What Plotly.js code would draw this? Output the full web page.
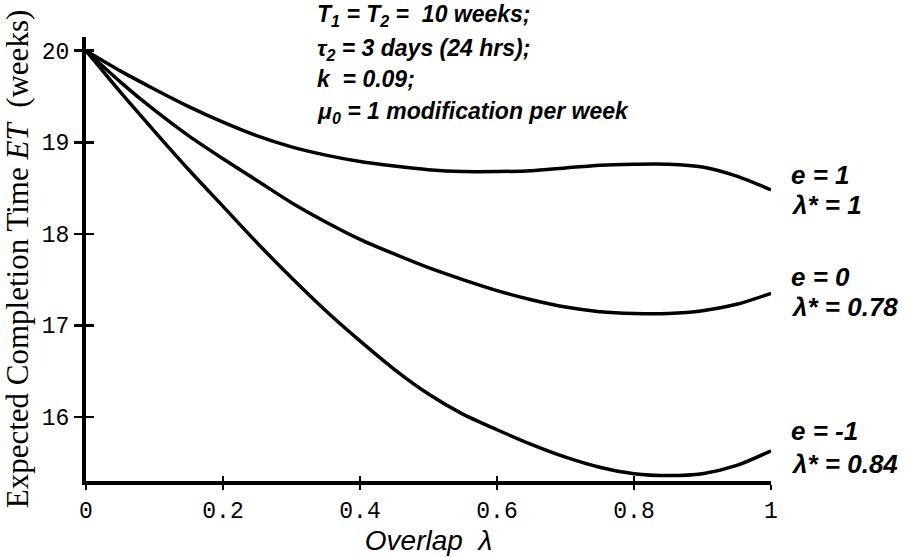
<!DOCTYPE html>
<html>
<head>
<meta charset="utf-8">
<script src="https://cdn.plot.ly/plotly-3.0.1.min.js"></script>
<style>html,body{margin:0;padding:0;background:#fff;}#chart{width:911px;height:557px;}</style>
</head>
<body>
<div id="chart"></div>
<script>
// Overlap lambda values
const overlap = [0,0.05,0.1,0.15,0.2,0.25,0.3,0.35,0.4,0.45,0.5,0.55,0.6,0.65,0.7,0.75,0.8,0.85,0.9,0.95,1.0];
// Expected completion time ET (weeks)
const etE1  = [20.0,19.78,19.58,19.39,19.22,19.07,18.95,18.86,18.79,18.74,18.70,18.68,18.68,18.69,18.72,18.75,18.76,18.76,18.73,18.63,18.48];
const etE0  = [20.0,19.66,19.35,19.07,18.82,18.58,18.34,18.13,17.94,17.78,17.63,17.50,17.38,17.28,17.20,17.15,17.13,17.13,17.16,17.23,17.35];
const etEm1 = [20.0,19.55,19.12,18.70,18.30,17.90,17.52,17.16,16.83,16.52,16.25,16.03,15.86,15.70,15.56,15.45,15.38,15.36,15.38,15.47,15.63];

const xTickVals = [0,0.2,0.4,0.6,0.8,1];
const xTickText = ['0','0.2','0.4','0.6','0.8','1'];
const yTickVals = [16,17,18,19,20];
const yTickText = ['16','17','18','19','20'];

const curveLabelE      = ['e = 1','e = 0','e = -1'];
const curveLabelLambda = ['λ* = 1','λ* = 0.78','λ* = 0.84'];
const curveLabelY      = [[18.64,18.31],[17.53,17.20],[15.85,15.49]];

const paramLines = [
  'T<sub>1</sub> = T<sub>2</sub> =  10 weeks;',
  'τ<sub>2</sub> = 3 days (24 hrs);',
  'k  = 0.09;',
  'μ<sub>0</sub> = 1 modification per week'
];
const paramY = [1.049, 0.971, 0.905, 0.831];

const xRange = [0,1];
const yRange = [15.3,20.15];

const lineStyle = {color:'#000', width:3.5, shape:'spline', smoothing:0.8};
const traces = [
  {x:overlap, y:etE1, mode:'lines', line:lineStyle, xaxis:'x', yaxis:'y', hoverinfo:'skip'},
  {x:overlap, y:etE0, mode:'lines', line:lineStyle, xaxis:'x', yaxis:'y', hoverinfo:'skip'},
  {x:overlap, y:etEm1, mode:'lines', line:lineStyle, xaxis:'x2', yaxis:'y2', hoverinfo:'skip'}
];

const tickFont = {family:'Liberation Mono, DejaVu Sans Mono, monospace', size:23, color:'#000'};
const sideFont = {family:'Liberation Sans, Arial, sans-serif', size:26, color:'#000', style:'italic', weight:'bold'};
const paramFont = {family:'Liberation Sans, Arial, sans-serif', size:23, color:'#000', style:'italic', weight:'bold'};

const annotations = [];
for (let i=0;i<3;i++){
  annotations.push({xref:'paper', yref:'y', x:1.026, y:curveLabelY[i][0], xanchor:'left', yanchor:'middle', text:curveLabelE[i], showarrow:false, font:sideFont});
  annotations.push({xref:'paper', yref:'y', x:1.026, y:curveLabelY[i][1], xanchor:'left', yanchor:'middle', text:curveLabelLambda[i], showarrow:false, font:sideFont});
}
for (let i=0;i<paramLines.length;i++){
  annotations.push({xref:'paper', yref:'paper', x:0.334, y:paramY[i], xanchor:'left', yanchor:'middle', text:paramLines[i], showarrow:false, font:paramFont});
}

const layout = {
  width:911, height:557,
  margin:{l:86, r:140, t:37, b:76},
  paper_bgcolor:'#fff', plot_bgcolor:'#fff',
  showlegend:false,
  xaxis:{range:xRange, tickvals:xTickVals, ticktext:xTickText, ticks:'outside', ticklen:5, tickwidth:2.5, tickcolor:'#000',
         showline:true, linewidth:4, linecolor:'#000', showgrid:false, zeroline:false, tickfont:tickFont,
         title:{text:'Overlap  λ', font:{family:'Liberation Sans, Arial, sans-serif', size:28, color:'#000', style:'italic'}, standoff:0}},
  yaxis:{range:yRange, tickvals:yTickVals, ticktext:yTickText, ticks:'outside', ticklen:8, tickwidth:2.5, tickcolor:'#000',
         showline:true, linewidth:4, linecolor:'#000', showgrid:false, zeroline:false, tickfont:tickFont,
         title:{text:'Expected Completion Time <i>ET</i>  (weeks)', font:{family:'Liberation Serif, Times New Roman, serif', size:31, color:'#000'}, standoff:5}},
  xaxis2:{range:xRange, overlaying:'x', anchor:'y2', tickvals:xTickVals, ticks:'inside', ticklen:5, tickwidth:2.5, tickcolor:'#000',
          showticklabels:false, showline:false, showgrid:false, zeroline:false},
  yaxis2:{range:yRange, overlaying:'y', anchor:'x2', side:'left', tickvals:yTickVals, ticks:'inside', ticklen:8, tickwidth:2.5, tickcolor:'#000',
          showticklabels:false, showline:false, showgrid:false, zeroline:false},
  annotations:annotations
};

Plotly.newPlot('chart', traces, layout, {displayModeBar:false, staticPlot:true});
</script>
</body>
</html>
